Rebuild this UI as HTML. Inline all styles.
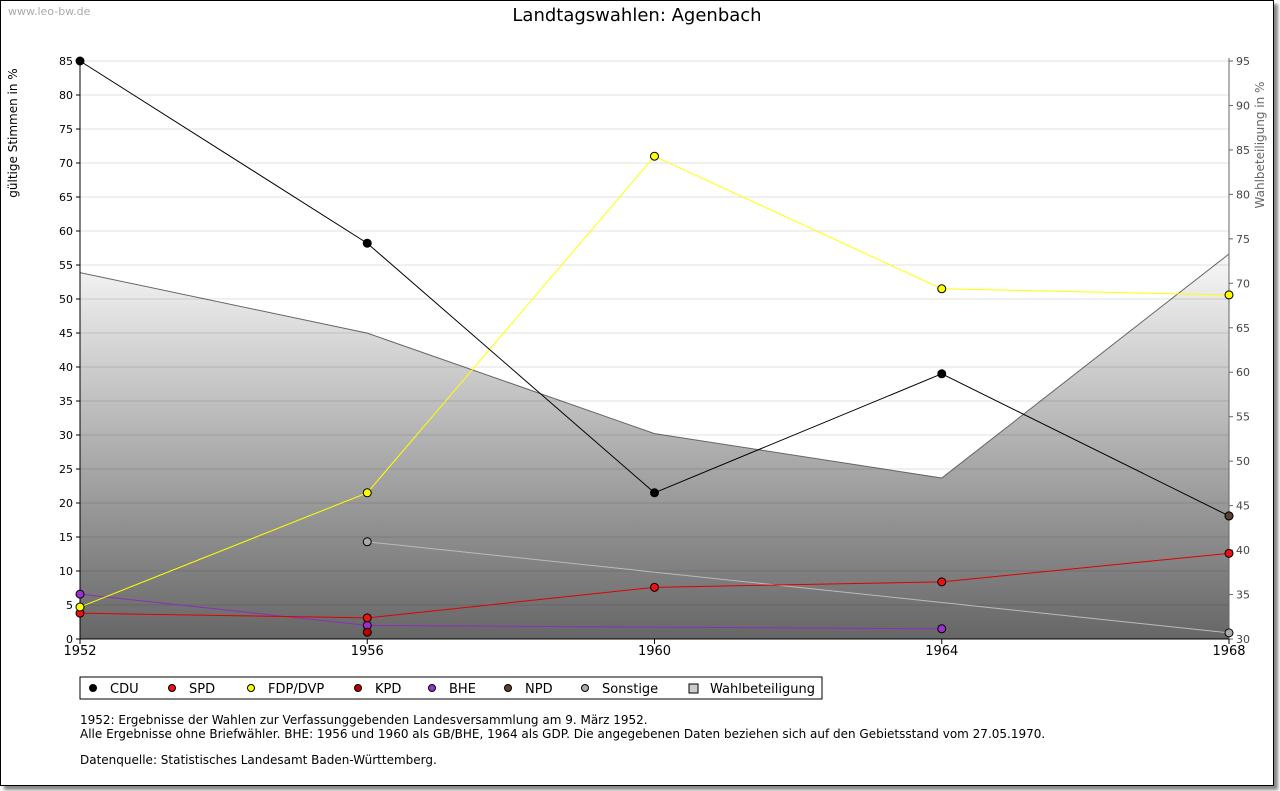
<!DOCTYPE html>
<html><head><meta charset="utf-8"><style>
body{margin:0;background:#fff;font-family:"DejaVu Sans","Liberation Sans",sans-serif;}
#frame{position:absolute;left:0;top:0;width:1272px;height:784px;border:1px solid #000;box-shadow:4px 4px 3px #888;background:#fff;}
</style></head><body>
<div id="frame"></div>
<svg id="chart" width="1280" height="791" style="position:absolute;left:0;top:0" font-family="DejaVu Sans, Liberation Sans, sans-serif">
<defs><linearGradient id="g" x1="0" y1="0" x2="0" y2="1"><stop offset="0" stop-color="#f8f8f8"/><stop offset="1" stop-color="#666"/></linearGradient></defs>
<text x="8" y="15" font-size="11" fill="#aaa">www.leo-bw.de</text>
<text x="637" y="21" font-size="18" text-anchor="middle">Landtagswahlen: Agenbach</text>
<text transform="translate(17,133) rotate(-90)" font-size="12" text-anchor="middle">gültige Stimmen in %</text>
<text transform="translate(1264,145) rotate(-90)" font-size="12" fill="#666" text-anchor="middle">Wahlbeteiligung in %</text>
<g id="plot"></g>
<g>
<rect x="80" y="677" width="742" height="22" fill="#fff" stroke="#000"/>
<g id="legend"></g>
</g>
<g font-size="12">
<text x="80" y="724">1952: Ergebnisse der Wahlen zur Verfassunggebenden Landesversammlung am 9. März 1952.</text>
<text x="80" y="738">Alle Ergebnisse ohne Briefwähler. BHE: 1956 und 1960 als GB/BHE, 1964 als GDP. Die angegebenen Daten beziehen sich auf den Gebietsstand vom 27.05.1970.</text>
<text x="80" y="764">Datenquelle: Statistisches Landesamt Baden-Württemberg.</text>
</g>
</svg>
<script>
const years=[1952,1956,1960,1964,1968];
const cdu=[85,58.2,21.5,39,18.1];
const spd=[3.8,3.1,7.6,8.4,12.6];
const fdp=[4.7,21.5,71,51.5,50.6];
const kpd=[null,1.0,null,null,null];
const bhe=[6.6,2.0,null,1.5,null];
const npd=[null,null,null,null,18.1];
const sonst=[null,14.3,null,null,0.9];
const turnout=[71.2,64.4,53.1,48.1,73.3];
const leftTicks=[0,5,10,15,20,25,30,35,40,45,50,55,60,65,70,75,80,85];
const rightTicks=[30,35,40,45,50,55,60,65,70,75,80,85,90,95];
const NS='http://www.w3.org/2000/svg';
const X0=80,X1=1229,Y0=639,Y1=61;
const xs=y=>X0+(y-1952)/(1968-1952)*(X1-X0);
const yl=v=>Y0-v/85*(Y0-Y1);
const yr=v=>Y0-(v-30)/65*(Y0-Y1);
const plot=document.getElementById('plot');
function el(t,a,p){const e=document.createElementNS(NS,t);for(const k in a)e.setAttribute(k,a[k]);(p||plot).appendChild(e);return e;}
// area
let d='M'+xs(years[0])+','+Y0;
turnout.forEach((v,i)=>d+=' L'+xs(years[i])+','+yr(v));
d+=' L'+xs(years[4])+','+Y0+' Z';
const area=el('path',{d:d,fill:'url(#g)',stroke:'none'});


const tl=el('polyline',{points:turnout.map((v,i)=>xs(years[i])+','+yr(v)).join(' '),fill:'none',stroke:'#666'});


leftTicks.forEach(t=>{
 if(t>0){const g=el('line',{x1:X0,x2:X1,y1:yl(t),y2:yl(t),stroke:'#000','stroke-opacity':0.12});
 
 }
 el('line',{x1:X0-4,x2:X0,y1:yl(t),y2:yl(t),stroke:'#000'});
 const tx=el('text',{x:X0-7,y:yl(t)+4,'font-size':11,'text-anchor':'end'});tx.textContent=t;
 
 
});
rightTicks.forEach(t=>{
 el('line',{x1:X1,x2:X1+4,y1:yr(t),y2:yr(t),stroke:'#666'});
 const tx=el('text',{x:X1+7,y:yr(t)+4,'font-size':11,fill:'#444'});tx.textContent=t;
 
 
});
years.forEach(y=>{
 el('line',{x1:xs(y),x2:xs(y),y1:Y0,y2:Y0+5,stroke:'#000'});
 const tx=el('text',{x:xs(y),y:Y0+16,'font-size':13,'text-anchor':'middle'});tx.textContent=y;
 
 
});
el('line',{x1:X0,x2:X0,y1:Y1-3,y2:Y0,stroke:'#000'});
el('line',{x1:X1,x2:X1,y1:Y1-3,y2:Y0,stroke:'#666'});
el('line',{x1:X0,x2:X1,y1:Y0,y2:Y0,stroke:'#000'});
const series=[[sonst,'#bbb','#aaa','sonstige'],[bhe,'#8e2ebe','#9b30d0','bhe'],[kpd,'#b00000','#b00','kpd'],[spd,'#e00000','#e11','spd'],[fdp,'#ffff00','#ff0','fdp'],[cdu,'#000','#000','cdu'],[npd,'#555','#5a4030','npd']];
series.forEach(([vals,lc,fc,name])=>{
 const pts=[];vals.forEach((v,i)=>{if(v!==null)pts.push([xs(years[i]),yl(v)]);});
 if(pts.length>1){const l=el('polyline',{points:pts.map(p=>p.join(',')).join(' '),fill:'none',stroke:lc});
 
 }
 pts.forEach(p=>{const c=el('circle',{cx:p[0],cy:p[1],r:4,fill:fc,stroke:'#000'});
 
 });
});
const legendNames=['CDU','SPD','FDP/DVP','KPD','BHE','NPD','Sonstige','Wahlbeteiligung'];
const legendColors=['#000','#e11','#ff0','#b00','#9b30d0','#5a4030','#aaa','#ccc'];
const legendX=[93,172,251,358,432,508,585,693];
const lg=document.getElementById('legend');
legendNames.forEach((n,i)=>{
 if(i===7)el('rect',{x:legendX[i]-4,y:684,width:9,height:9,fill:'#ccc',stroke:'#000'},lg);
 else el('circle',{cx:legendX[i],cy:688,r:3.5,fill:legendColors[i],stroke:'#000'},lg);
 const t=el('text',{x:legendX[i]+17,y:693,'font-size':13},lg);t.textContent=n;
 
 
});
</script>
</body></html>
